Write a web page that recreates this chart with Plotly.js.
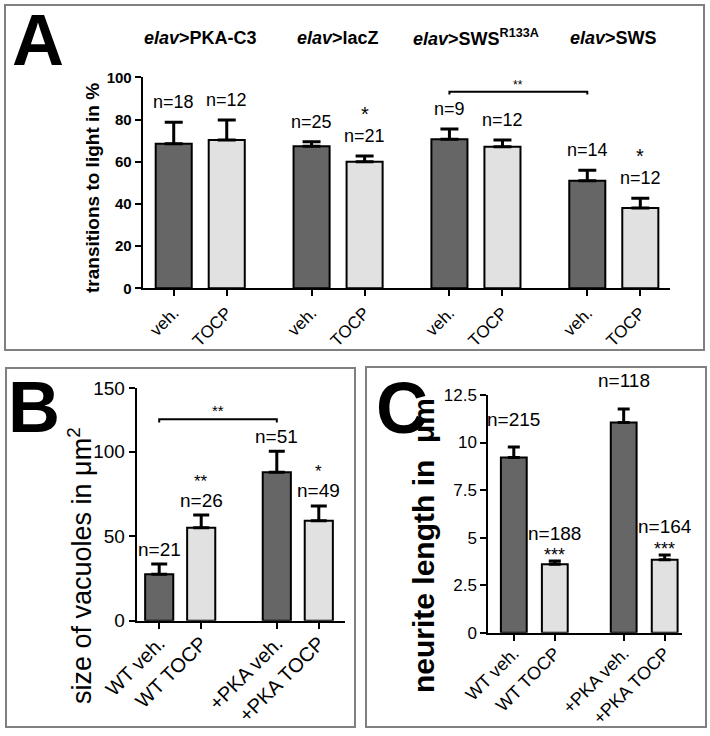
<!DOCTYPE html>
<html><head><meta charset="utf-8">
<script src="https://cdn.plot.ly/plotly-3.0.1.min.js"></script>
<style>body{margin:0;background:#fff}#chart{width:710px;height:736px}</style>
</head><body><div id="chart"></div>
<script>
// ---------- Panel A data ----------
const aLabels = ['veh.','TOCP','veh.','TOCP','veh.','TOCP','veh.','TOCP'];
const aGroups = ['<i>elav</i>>PKA-C3','<i>elav</i>>lacZ','<i>elav</i>>SWS<sup>R133A</sup>','<i>elav</i>>SWS'];
const aMeans  = [68.5, 70.3, 67.3, 60.0, 70.6, 67.1, 51.0, 38.1];
const aErr    = [10.2,  9.5,  2.2,  2.7,  4.9,  3.2,  4.9,  4.6];
const aN      = ['n=18','n=12','n=25','n=21','n=9','n=12','n=14','n=12'];
const aStars  = ['','','','*','','','','*'];
const aTicks  = [0,20,40,60,80,100];
const aTitle  = 'transitions to light in %';

// ---------- Panel B data ----------
const bLabels = ['WT veh.','WT TOCP','+PKA veh.','+PKA TOCP'];
const bMeans  = [27.5, 55.0, 87.8, 59.2];
const bErr    = [ 6.0,  7.5, 12.4,  8.7];
const bN      = ['n=21','n=26','n=51','n=49'];
const bStars  = ['','**','','*'];
const bTickText = ['0','50','100','150'];
const bTitle  = 'size of vacuoles in μm<sup>2</sup>';

// ---------- Panel C data ----------
const cLabels = ['WT veh.','WT TOCP','+PKA veh.','+PKA TOCP'];
const cMeans  = [9.21, 3.60, 11.05, 3.83];
const cErr    = [0.55, 0.17,  0.72, 0.26];
const cN      = ['n=215','n=188','n=118','n=164'];
const cStars  = ['','***','','***'];
const cTicks  = [0,2.5,5,7.5,10,12.5];
const cTitle  = 'neurite length in\u00a0 μm';

// ---------- layout helpers ----------
const FONT = 'Liberation Sans, Arial, Helvetica, sans-serif';
const DARK = '#666666', LIGHT = '#e1e1e1';
const pos = (n, gap) => Array.from({length:n}, (_, i) => i + Math.floor(i/2)*gap);
const colors = n => Array.from({length:n}, (_, i) => i % 2 ? LIGHT : DARK);
const px = (v) => v/710, py = (v) => 1 - v/736;

const aX = pos(aMeans.length, 0.6);
const bX = pos(bMeans.length, 0.8);
const cX = pos(cMeans.length, 0.68);

function barTrace(x, y, err, xa, ya, width, cap) {
  return {
    type:'bar', x:x, y:y, xaxis:xa, yaxis:ya, width:width,
    marker:{color:colors(y.length), line:{color:'#000', width:2}},
    error_y:{type:'data', symmetric:false, array:err, arrayminus:err.map(()=>0),
             color:'#000', thickness:3, width:cap},
    hoverinfo:'none', showlegend:false
  };
}

const data = [
  barTrace(aX, aMeans, aErr, 'x', 'y', 0.68, 9),
  barTrace(bX, bMeans, bErr, 'x2', 'y2', 0.67, 8),
  barTrace(cX, cMeans, cErr, 'x3', 'y3', 0.63, 6)
];

const annotations = [];
function addLabels(x, means, err, ns, stars, xr, yr, size, nShift, sShift, sSize) {
  x.forEach((xv, i) => {
    const top = means[i] + err[i];
    annotations.push({xref:xr, yref:yr, x:xv, y:top, text:ns[i], showarrow:false,
      xanchor:'center', yanchor:'middle', yshift:nShift, font:{size:size, color:'#000', family:FONT}});
    if (stars[i]) annotations.push({xref:xr, yref:yr, x:xv, y:top, text:stars[i], showarrow:false,
      xanchor:'center', yanchor:'middle', yshift:sShift, font:{size:sSize, color:'#000', family:FONT}});
  });
}
addLabels(aX, aMeans, aErr, aN, aStars, 'x', 'y', 18, 20, 42, 20);
addLabels(bX, bMeans, bErr, bN, bStars, 'x2', 'y2', 19, 15, 34, 17);
addLabels(cX, cMeans, cErr, cN, cStars, 'x3', 'y3', 19, 28, 6, 18);

// group headings for panel A
aGroups.forEach((g, k) => {
  annotations.push({xref:'x', yref:'paper', x:(aX[2*k]+aX[2*k+1])/2, y:py(38), text:'<b>'+g+'</b>',
    showarrow:false, xanchor:'center', yanchor:'middle', font:{size:18, color:'#000', family:FONT}});
});

// panel letters
[['A',38,40],['B',34,407],['C',402,408]].forEach(([t,x,y]) => {
  annotations.push({xref:'paper', yref:'paper', x:px(x), y:py(y), text:'<b>'+t+'</b>', showarrow:false,
    xanchor:'center', yanchor:'middle', font:{size:72, color:'#000', family:FONT}});
});

// y-axis titles
function yTitle(text, x, y, size) {
  annotations.push({xref:'paper', yref:'paper', x:px(x), y:py(y), text:text, textangle:-90,
    xanchor:'center', yanchor:'middle', showarrow:false, font:{size:size, color:'#000', family:FONT}});
}
yTitle('<b>'+aTitle+'</b>', 92, 188, 19);
yTitle(bTitle, 80, 566, 27);
yTitle('<b>'+cTitle+'</b>', 423, 546, 30);

// significance brackets
function bracket(xr, yr, x0, x1, y, drop) {
  return {type:'path', xref:xr, yref:yr,
    path:`M ${x0},${y-drop} L ${x0},${y} L ${x1},${y} L ${x1},${y-drop}`,
    line:{color:'#000', width:2}};
}
const shapes = [
  bracket('x', 'y', aX[4], aX[6], 93.2, 1.4),
  bracket('x2', 'y2', bX[0], bX[2], 119.2, 2),
  // panel borders
  {type:'rect', xref:'paper', yref:'paper', x0:px(5), x1:px(704), y0:py(350), y1:py(5), line:{color:'#808080', width:2}},
  {type:'rect', xref:'paper', yref:'paper', x0:px(6), x1:px(355), y0:py(727), y1:py(368), line:{color:'#808080', width:2}},
  {type:'rect', xref:'paper', yref:'paper', x0:px(366), x1:px(706), y0:py(727), y1:py(367), line:{color:'#808080', width:2}}
];
annotations.push({xref:'x', yref:'y', x:(aX[4]+aX[6])/2, y:93.2, text:'**', showarrow:false,
  xanchor:'center', yanchor:'bottom', yshift:-2, font:{size:12, color:'#000', family:FONT}});
annotations.push({xref:'x2', yref:'y2', x:(bX[0]+bX[2])/2, y:119.2, text:'**', showarrow:false,
  xanchor:'center', yanchor:'bottom', yshift:-2, font:{size:15, color:'#000', family:FONT}});

function xAxis(domain, range, vals, text, size, standoff) {
  return {domain:domain, range:range, tickvals:vals, ticktext:text, tickangle:-45, ticklabelstandoff:standoff,
    showline:true, linecolor:'#000', linewidth:2, ticks:'outside', ticklen:6, tickwidth:2, tickcolor:'#000',
    showgrid:false, zeroline:false, fixedrange:true, tickfont:{size:size, color:'#000', family:FONT}};
}
function yAxis(domain, range, vals, text, size, anchor) {
  return {domain:domain, range:range, tickvals:vals, ticktext:text, anchor:anchor,
    showline:true, linecolor:'#000', linewidth:2, ticks:'outside', ticklen:6, tickwidth:2, tickcolor:'#000',
    showgrid:false, zeroline:false, fixedrange:true, tickfont:{size:size, color:'#000', family:FONT}};
}

const layout = {
  width:710, height:736, margin:{l:0, r:0, t:0, b:0},
  paper_bgcolor:'#fff', plot_bgcolor:'rgba(0,0,0,0)',
  font:{family:FONT, color:'#000'},
  xaxis:  xAxis([px(142.7), px(670)], [-0.585, 9.36], aX, aLabels, 17, 0),
  yaxis:  Object.assign(yAxis([py(288.3), py(77.3)], [0, 100], aTicks, aTicks.map(String), 15, 'x'),
           {tickfont:{size:15, color:'#000', family:FONT, weight:'bold'}}),
  xaxis2: xAxis([px(136.7), px(345)], [-0.536, 4.424], bX, bLabels, 20, -5),
  yaxis2: yAxis([py(620.7), py(388.3)], [0, 137.5], [0, 50, 100, 137.5], bTickText, 19, 'x2'),
  xaxis3: xAxis([px(488.3), px(681.7)], [-0.622, 4.095], cX, cLabels, 18, -5),
  yaxis3: yAxis([py(632.7), py(395)], [0, 12.5], cTicks, cTicks.map(String), 17, 'x3'),
  annotations:annotations, shapes:shapes
};
layout.xaxis.anchor='y'; layout.xaxis2.anchor='y2'; layout.xaxis3.anchor='y3';

Plotly.newPlot('chart', data, layout, {staticPlot:true, displayModeBar:false});
</script>
</body></html>
